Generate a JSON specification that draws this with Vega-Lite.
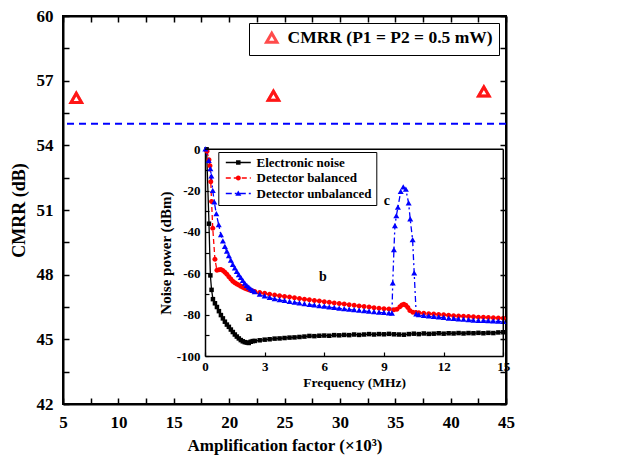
{
  "$schema": "https://vega.github.io/schema/vega-lite/v6.json",
  "width": 443,
  "height": 388,
  "autosize": {"type": "none"},
  "padding": {"left": 63, "top": 16, "right": 115, "bottom": 61},
  "background": "white",
  "config": {
    "view": {"stroke": "#000000", "strokeWidth": 2},
    "axis": {
      "grid": false,
      "domainColor": "#000000",
      "tickColor": "#000000",
      "labelColor": "#000000",
      "titleColor": "#000000",
      "labelFont": "Liberation Serif",
      "titleFont": "Liberation Serif",
      "labelFontWeight": "bold",
      "titleFontWeight": "bold",
      "labelOverlap": false,
      "labelFlush": false
    },
    "legend": {
      "labelFont": "Liberation Serif",
      "labelFontWeight": "bold",
      "labelColor": "#000000",
      "labelLimit": 400
    }
  },
  "datasets": {
    "cmrr": [
      {"amp": 6.2, "cmrr": 56.2, "series": "CMRR (P1 = P2 = 0.5 mW)"},
      {"amp": 24.0, "cmrr": 56.3, "series": "CMRR (P1 = P2 = 0.5 mW)"},
      {"amp": 43.0, "cmrr": 56.5, "series": "CMRR (P1 = P2 = 0.5 mW)"}
    ],
    "ref": [{"cmrr": 55}],
    "notes": [
      {"freq": 2.21, "power": -81.1, "label": "a"},
      {"freq": 5.93, "power": -61.8, "label": "b"},
      {"freq": 9.15, "power": -25.0, "label": "c"}
    ],
    "inset": [
      {"series": "Electronic noise", "freq": 0.08, "power": 0},
      {"series": "Electronic noise", "freq": 0.2, "power": -36},
      {"series": "Electronic noise", "freq": 0.27, "power": -61},
      {"series": "Electronic noise", "freq": 0.33, "power": -68},
      {"series": "Electronic noise", "freq": 0.4, "power": -72.5},
      {"series": "Electronic noise", "freq": 0.5, "power": -74.5},
      {"series": "Electronic noise", "freq": 0.6, "power": -76.3},
      {"series": "Electronic noise", "freq": 0.7, "power": -78.3},
      {"series": "Electronic noise", "freq": 0.8, "power": -80.2},
      {"series": "Electronic noise", "freq": 0.9, "power": -81.8},
      {"series": "Electronic noise", "freq": 1.0, "power": -83.4},
      {"series": "Electronic noise", "freq": 1.1, "power": -84.8},
      {"series": "Electronic noise", "freq": 1.2, "power": -85.9},
      {"series": "Electronic noise", "freq": 1.3, "power": -87.2},
      {"series": "Electronic noise", "freq": 1.4, "power": -88.4},
      {"series": "Electronic noise", "freq": 1.5, "power": -89.6},
      {"series": "Electronic noise", "freq": 1.6, "power": -90.6},
      {"series": "Electronic noise", "freq": 1.7, "power": -91.5},
      {"series": "Electronic noise", "freq": 1.8, "power": -92.3},
      {"series": "Electronic noise", "freq": 1.9, "power": -92.9},
      {"series": "Electronic noise", "freq": 2.0, "power": -93.3},
      {"series": "Electronic noise", "freq": 2.1, "power": -93.5},
      {"series": "Electronic noise", "freq": 2.2, "power": -93.7},
      {"series": "Electronic noise", "freq": 2.3, "power": -93.1},
      {"series": "Electronic noise", "freq": 2.4, "power": -92.8},
      {"series": "Electronic noise", "freq": 2.5, "power": -92.7},
      {"series": "Electronic noise", "freq": 2.75, "power": -92.4},
      {"series": "Electronic noise", "freq": 3.0, "power": -92.1},
      {"series": "Electronic noise", "freq": 3.25, "power": -91.9},
      {"series": "Electronic noise", "freq": 3.5, "power": -91.6},
      {"series": "Electronic noise", "freq": 3.75, "power": -91.5},
      {"series": "Electronic noise", "freq": 4.0, "power": -91.3},
      {"series": "Electronic noise", "freq": 4.25, "power": -91.1},
      {"series": "Electronic noise", "freq": 4.5, "power": -91.0},
      {"series": "Electronic noise", "freq": 4.75, "power": -90.8},
      {"series": "Electronic noise", "freq": 5.0, "power": -90.6},
      {"series": "Electronic noise", "freq": 5.25, "power": -90.3},
      {"series": "Electronic noise", "freq": 5.5, "power": -90.4},
      {"series": "Electronic noise", "freq": 5.75, "power": -90.2},
      {"series": "Electronic noise", "freq": 6.0, "power": -90.1},
      {"series": "Electronic noise", "freq": 6.25, "power": -90.2},
      {"series": "Electronic noise", "freq": 6.5, "power": -89.9},
      {"series": "Electronic noise", "freq": 6.75, "power": -90.0},
      {"series": "Electronic noise", "freq": 7.0, "power": -89.8},
      {"series": "Electronic noise", "freq": 7.25, "power": -89.9},
      {"series": "Electronic noise", "freq": 7.5, "power": -89.6},
      {"series": "Electronic noise", "freq": 7.75, "power": -89.8},
      {"series": "Electronic noise", "freq": 8.0, "power": -89.6},
      {"series": "Electronic noise", "freq": 8.25, "power": -89.4},
      {"series": "Electronic noise", "freq": 8.5, "power": -89.6},
      {"series": "Electronic noise", "freq": 8.75, "power": -89.4},
      {"series": "Electronic noise", "freq": 9.0, "power": -89.5},
      {"series": "Electronic noise", "freq": 9.25, "power": -89.3},
      {"series": "Electronic noise", "freq": 9.5, "power": -89.5},
      {"series": "Electronic noise", "freq": 9.75, "power": -89.6},
      {"series": "Electronic noise", "freq": 10.0, "power": -89.7},
      {"series": "Electronic noise", "freq": 10.25, "power": -89.4},
      {"series": "Electronic noise", "freq": 10.5, "power": -89.2},
      {"series": "Electronic noise", "freq": 10.75, "power": -89.4},
      {"series": "Electronic noise", "freq": 11.0, "power": -89.1},
      {"series": "Electronic noise", "freq": 11.25, "power": -89.3},
      {"series": "Electronic noise", "freq": 11.5, "power": -89.2},
      {"series": "Electronic noise", "freq": 11.75, "power": -89.0},
      {"series": "Electronic noise", "freq": 12.0, "power": -89.2},
      {"series": "Electronic noise", "freq": 12.25, "power": -89.0},
      {"series": "Electronic noise", "freq": 12.5, "power": -89.1},
      {"series": "Electronic noise", "freq": 12.75, "power": -88.9},
      {"series": "Electronic noise", "freq": 13.0, "power": -89.1},
      {"series": "Electronic noise", "freq": 13.25, "power": -88.9},
      {"series": "Electronic noise", "freq": 13.5, "power": -89.0},
      {"series": "Electronic noise", "freq": 13.75, "power": -88.8},
      {"series": "Electronic noise", "freq": 14.0, "power": -89.0},
      {"series": "Electronic noise", "freq": 14.25, "power": -88.8},
      {"series": "Electronic noise", "freq": 14.5, "power": -88.9},
      {"series": "Electronic noise", "freq": 14.75, "power": -88.6},
      {"series": "Electronic noise", "freq": 15.0, "power": -88.5},
      {"series": "Detector balanced", "freq": 0.1, "power": -1},
      {"series": "Detector balanced", "freq": 0.2, "power": -5},
      {"series": "Detector balanced", "freq": 0.25, "power": -8},
      {"series": "Detector balanced", "freq": 0.29, "power": -15.7},
      {"series": "Detector balanced", "freq": 0.33, "power": -25.3},
      {"series": "Detector balanced", "freq": 0.39, "power": -38.2},
      {"series": "Detector balanced", "freq": 0.5, "power": -53.2},
      {"series": "Detector balanced", "freq": 0.6, "power": -58.5},
      {"series": "Detector balanced", "freq": 0.7, "power": -58.3},
      {"series": "Detector balanced", "freq": 0.8, "power": -58.1},
      {"series": "Detector balanced", "freq": 0.9, "power": -58.6},
      {"series": "Detector balanced", "freq": 1.0, "power": -59.5},
      {"series": "Detector balanced", "freq": 1.1, "power": -60.4},
      {"series": "Detector balanced", "freq": 1.2, "power": -61.6},
      {"series": "Detector balanced", "freq": 1.3, "power": -62.8},
      {"series": "Detector balanced", "freq": 1.4, "power": -63.8},
      {"series": "Detector balanced", "freq": 1.5, "power": -64.6},
      {"series": "Detector balanced", "freq": 1.6, "power": -65.2},
      {"series": "Detector balanced", "freq": 1.7, "power": -65.7},
      {"series": "Detector balanced", "freq": 1.8, "power": -66.2},
      {"series": "Detector balanced", "freq": 1.9, "power": -66.7},
      {"series": "Detector balanced", "freq": 2.0, "power": -67.2},
      {"series": "Detector balanced", "freq": 2.1, "power": -67.6},
      {"series": "Detector balanced", "freq": 2.2, "power": -68.0},
      {"series": "Detector balanced", "freq": 2.3, "power": -68.3},
      {"series": "Detector balanced", "freq": 2.4, "power": -68.6},
      {"series": "Detector balanced", "freq": 2.5, "power": -68.8},
      {"series": "Detector balanced", "freq": 2.75, "power": -69.3},
      {"series": "Detector balanced", "freq": 3.0, "power": -69.7},
      {"series": "Detector balanced", "freq": 3.25, "power": -70.1},
      {"series": "Detector balanced", "freq": 3.5, "power": -70.5},
      {"series": "Detector balanced", "freq": 3.75, "power": -70.8},
      {"series": "Detector balanced", "freq": 4.0, "power": -71.2},
      {"series": "Detector balanced", "freq": 4.25, "power": -71.5},
      {"series": "Detector balanced", "freq": 4.5, "power": -71.8},
      {"series": "Detector balanced", "freq": 4.75, "power": -72.2},
      {"series": "Detector balanced", "freq": 5.0, "power": -72.5},
      {"series": "Detector balanced", "freq": 5.25, "power": -72.8},
      {"series": "Detector balanced", "freq": 5.5, "power": -73.1},
      {"series": "Detector balanced", "freq": 5.75, "power": -73.4},
      {"series": "Detector balanced", "freq": 6.0, "power": -73.7},
      {"series": "Detector balanced", "freq": 6.25, "power": -74.0},
      {"series": "Detector balanced", "freq": 6.5, "power": -74.3},
      {"series": "Detector balanced", "freq": 6.75, "power": -74.6},
      {"series": "Detector balanced", "freq": 7.0, "power": -74.9},
      {"series": "Detector balanced", "freq": 7.25, "power": -75.2},
      {"series": "Detector balanced", "freq": 7.5, "power": -75.5},
      {"series": "Detector balanced", "freq": 7.75, "power": -75.8},
      {"series": "Detector balanced", "freq": 8.0, "power": -76.1},
      {"series": "Detector balanced", "freq": 8.25, "power": -76.3},
      {"series": "Detector balanced", "freq": 8.5, "power": -76.6},
      {"series": "Detector balanced", "freq": 8.75, "power": -76.9},
      {"series": "Detector balanced", "freq": 9.0, "power": -77.1},
      {"series": "Detector balanced", "freq": 9.25, "power": -77.3},
      {"series": "Detector balanced", "freq": 9.5, "power": -77.6},
      {"series": "Detector balanced", "freq": 9.65, "power": -77.4},
      {"series": "Detector balanced", "freq": 9.8, "power": -76.2},
      {"series": "Detector balanced", "freq": 9.9, "power": -75.3},
      {"series": "Detector balanced", "freq": 10.0, "power": -75.0},
      {"series": "Detector balanced", "freq": 10.1, "power": -75.4},
      {"series": "Detector balanced", "freq": 10.2, "power": -76.5},
      {"series": "Detector balanced", "freq": 10.3, "power": -78.0},
      {"series": "Detector balanced", "freq": 10.45, "power": -78.8},
      {"series": "Detector balanced", "freq": 10.6, "power": -79.0},
      {"series": "Detector balanced", "freq": 10.75, "power": -79.1},
      {"series": "Detector balanced", "freq": 11.0, "power": -79.3},
      {"series": "Detector balanced", "freq": 11.25, "power": -79.5},
      {"series": "Detector balanced", "freq": 11.5, "power": -79.7},
      {"series": "Detector balanced", "freq": 11.75, "power": -79.9},
      {"series": "Detector balanced", "freq": 12.0, "power": -80.1},
      {"series": "Detector balanced", "freq": 12.25, "power": -80.3},
      {"series": "Detector balanced", "freq": 12.5, "power": -80.5},
      {"series": "Detector balanced", "freq": 12.75, "power": -80.6},
      {"series": "Detector balanced", "freq": 13.0, "power": -80.8},
      {"series": "Detector balanced", "freq": 13.25, "power": -80.9},
      {"series": "Detector balanced", "freq": 13.5, "power": -81.0},
      {"series": "Detector balanced", "freq": 13.75, "power": -81.2},
      {"series": "Detector balanced", "freq": 14.0, "power": -81.3},
      {"series": "Detector balanced", "freq": 14.25, "power": -81.4},
      {"series": "Detector balanced", "freq": 14.5, "power": -81.5},
      {"series": "Detector balanced", "freq": 14.75, "power": -81.6},
      {"series": "Detector balanced", "freq": 15.0, "power": -81.7},
      {"series": "Detector unbalanced", "freq": 0.02, "power": 0},
      {"series": "Detector unbalanced", "freq": 0.19, "power": -5.5},
      {"series": "Detector unbalanced", "freq": 0.27, "power": -9.5},
      {"series": "Detector unbalanced", "freq": 0.32, "power": -13},
      {"series": "Detector unbalanced", "freq": 0.39, "power": -20},
      {"series": "Detector unbalanced", "freq": 0.47, "power": -25.6},
      {"series": "Detector unbalanced", "freq": 0.57, "power": -31.3},
      {"series": "Detector unbalanced", "freq": 0.69, "power": -36.6},
      {"series": "Detector unbalanced", "freq": 0.8, "power": -41.5},
      {"series": "Detector unbalanced", "freq": 0.9, "power": -44.5},
      {"series": "Detector unbalanced", "freq": 1.0, "power": -47.1},
      {"series": "Detector unbalanced", "freq": 1.1, "power": -49.5},
      {"series": "Detector unbalanced", "freq": 1.2, "power": -51.6},
      {"series": "Detector unbalanced", "freq": 1.3, "power": -53.8},
      {"series": "Detector unbalanced", "freq": 1.4, "power": -55.8},
      {"series": "Detector unbalanced", "freq": 1.5, "power": -57.5},
      {"series": "Detector unbalanced", "freq": 1.6, "power": -59.2},
      {"series": "Detector unbalanced", "freq": 1.7, "power": -60.8},
      {"series": "Detector unbalanced", "freq": 1.8, "power": -62.2},
      {"series": "Detector unbalanced", "freq": 1.9, "power": -63.6},
      {"series": "Detector unbalanced", "freq": 2.0, "power": -64.9},
      {"series": "Detector unbalanced", "freq": 2.1, "power": -66.0},
      {"series": "Detector unbalanced", "freq": 2.2, "power": -66.9},
      {"series": "Detector unbalanced", "freq": 2.3, "power": -67.7},
      {"series": "Detector unbalanced", "freq": 2.4, "power": -68.4},
      {"series": "Detector unbalanced", "freq": 2.5, "power": -69.0},
      {"series": "Detector unbalanced", "freq": 2.75, "power": -70.2},
      {"series": "Detector unbalanced", "freq": 3.0, "power": -71.1},
      {"series": "Detector unbalanced", "freq": 3.25, "power": -71.8},
      {"series": "Detector unbalanced", "freq": 3.5, "power": -72.4},
      {"series": "Detector unbalanced", "freq": 3.75, "power": -72.9},
      {"series": "Detector unbalanced", "freq": 4.0, "power": -73.3},
      {"series": "Detector unbalanced", "freq": 4.25, "power": -73.7},
      {"series": "Detector unbalanced", "freq": 4.5, "power": -74.1},
      {"series": "Detector unbalanced", "freq": 4.75, "power": -74.5},
      {"series": "Detector unbalanced", "freq": 5.0, "power": -74.9},
      {"series": "Detector unbalanced", "freq": 5.25, "power": -75.2},
      {"series": "Detector unbalanced", "freq": 5.5, "power": -75.5},
      {"series": "Detector unbalanced", "freq": 5.75, "power": -75.8},
      {"series": "Detector unbalanced", "freq": 6.0, "power": -76.1},
      {"series": "Detector unbalanced", "freq": 6.25, "power": -76.4},
      {"series": "Detector unbalanced", "freq": 6.5, "power": -76.7},
      {"series": "Detector unbalanced", "freq": 6.75, "power": -77.0},
      {"series": "Detector unbalanced", "freq": 7.0, "power": -77.3},
      {"series": "Detector unbalanced", "freq": 7.25, "power": -77.5},
      {"series": "Detector unbalanced", "freq": 7.5, "power": -77.8},
      {"series": "Detector unbalanced", "freq": 7.75, "power": -78.0},
      {"series": "Detector unbalanced", "freq": 8.0, "power": -78.2},
      {"series": "Detector unbalanced", "freq": 8.25, "power": -78.5},
      {"series": "Detector unbalanced", "freq": 8.5, "power": -78.7},
      {"series": "Detector unbalanced", "freq": 8.75, "power": -78.9},
      {"series": "Detector unbalanced", "freq": 9.0, "power": -79.1},
      {"series": "Detector unbalanced", "freq": 9.25, "power": -79.3},
      {"series": "Detector unbalanced", "freq": 9.4, "power": -79.4},
      {"series": "Detector unbalanced", "freq": 9.44, "power": -64.8},
      {"series": "Detector unbalanced", "freq": 9.5, "power": -48.7},
      {"series": "Detector unbalanced", "freq": 9.55, "power": -37.1},
      {"series": "Detector unbalanced", "freq": 9.62, "power": -32.3},
      {"series": "Detector unbalanced", "freq": 9.7, "power": -28.1},
      {"series": "Detector unbalanced", "freq": 9.84, "power": -20.5},
      {"series": "Detector unbalanced", "freq": 9.97, "power": -18.4},
      {"series": "Detector unbalanced", "freq": 10.1, "power": -19.4},
      {"series": "Detector unbalanced", "freq": 10.24, "power": -26.1},
      {"series": "Detector unbalanced", "freq": 10.32, "power": -33.9},
      {"series": "Detector unbalanced", "freq": 10.44, "power": -43.9},
      {"series": "Detector unbalanced", "freq": 10.52, "power": -60},
      {"series": "Detector unbalanced", "freq": 10.62, "power": -79.8},
      {"series": "Detector unbalanced", "freq": 10.75, "power": -80.2},
      {"series": "Detector unbalanced", "freq": 11.0, "power": -80.5},
      {"series": "Detector unbalanced", "freq": 11.25, "power": -80.8},
      {"series": "Detector unbalanced", "freq": 11.5, "power": -81.0},
      {"series": "Detector unbalanced", "freq": 11.75, "power": -81.3},
      {"series": "Detector unbalanced", "freq": 12.0, "power": -81.5},
      {"series": "Detector unbalanced", "freq": 12.25, "power": -81.8},
      {"series": "Detector unbalanced", "freq": 12.5, "power": -82.0},
      {"series": "Detector unbalanced", "freq": 12.75, "power": -82.2},
      {"series": "Detector unbalanced", "freq": 13.0, "power": -82.4},
      {"series": "Detector unbalanced", "freq": 13.25, "power": -82.6},
      {"series": "Detector unbalanced", "freq": 13.5, "power": -82.8},
      {"series": "Detector unbalanced", "freq": 13.75, "power": -82.9},
      {"series": "Detector unbalanced", "freq": 14.0, "power": -83.0},
      {"series": "Detector unbalanced", "freq": 14.25, "power": -83.1},
      {"series": "Detector unbalanced", "freq": 14.5, "power": -83.2},
      {"series": "Detector unbalanced", "freq": 14.75, "power": -83.3},
      {"series": "Detector unbalanced", "freq": 15.0, "power": -83.4}
    ]
  },
  "layer": [
    {
      "data": {"name": "ref"},
      "mark": {"type": "rule", "color": "#0000ff", "strokeWidth": 2, "strokeDash": [7, 5]},
      "encoding": {
        "y": {
          "field": "cmrr", "type": "quantitative",
          "scale": {"domain": [42, 60], "nice": false, "zero": false},
          "axis": {"orient": "right", "labelExpr": "''", "title": null, "values": [42, 43.5, 45, 46.5, 48, 49.5, 51, 52.5, 54, 55.5, 57, 58.5, 60], "tickSize": -6, "tickWidth": 1.5, "domainWidth": 2}
        }
      }
    },
    {
      "data": {"name": "cmrr"},
      "mark": {"type": "point", "filled": false, "color": "#ff0000", "strokeWidth": 3, "size": 110},
      "encoding": {
        "x": {
          "field": "amp", "type": "quantitative",
          "scale": {"domain": [5, 45], "nice": false, "zero": false},
          "axis": {
            "orient": "bottom",
            "values": [5, 7.5, 10, 12.5, 15, 17.5, 20, 22.5, 25, 27.5, 30, 32.5, 35, 37.5, 40, 42.5, 45],
            "labelExpr": "datum.value % 5 == 0 ? datum.label : ''",
            "tickSize": -6, "tickWidth": 1.5, "domainWidth": 2,
            "labelPadding": 16, "labelFontSize": 17,
            "title": "Amplification factor (×10³)", "titleFontSize": 17, "titlePadding": 7
          }
        },
        "y": {
          "field": "cmrr", "type": "quantitative",
          "scale": {"domain": [42, 60], "nice": false, "zero": false},
          "axis": {
            "orient": "left",
            "values": [42, 43.5, 45, 46.5, 48, 49.5, 51, 52.5, 54, 55.5, 57, 58.5, 60],
            "labelExpr": "datum.value % 3 == 0 ? datum.label : ''",
            "tickSize": -6, "tickWidth": 1.5, "domainWidth": 2,
            "labelPadding": 16, "labelFontSize": 17,
            "title": "CMRR (dB)", "titleFontSize": 18, "titlePadding": 8
          }
        },
        "shape": {
          "field": "series", "type": "nominal",
          "scale": {"range": ["triangle-up"]},
          "legend": {
            "orient": "none", "legendX": 186, "legendY": 7, "title": null,
            "strokeColor": "#000000", "padding": 6,
            "symbolSize": 110, "symbolStrokeWidth": 3, "symbolStrokeColor": "#ff0000", "symbolFillColor": "#ffffff",
            "symbolOffset": 8, "labelOffset": 7, "labelFontSize": 17.5
          }
        }
      }
    },
    {
      "data": {"name": "cmrr"},
      "mark": {"type": "point", "shape": "triangle-up", "filled": false, "color": "#ff0000", "strokeWidth": 3, "size": 110},
      "encoding": {
        "x": {
          "field": "amp", "type": "quantitative",
          "scale": {"domain": [5, 45], "nice": false, "zero": false},
          "axis": {"orient": "top", "labelExpr": "''", "title": null, "values": [5, 7.5, 10, 12.5, 15, 17.5, 20, 22.5, 25, 27.5, 30, 32.5, 35, 37.5, 40, 42.5, 45], "tickSize": -6, "tickWidth": 1.5, "domainWidth": 2}
        },
        "y": {
          "field": "cmrr", "type": "quantitative",
          "scale": {"domain": [42, 60], "nice": false, "zero": false},
          "axis": null
        }
      }
    },
    {
      "data": {"name": "inset"},
      "mark": {"type": "line", "strokeWidth": 1.3},
      "encoding": {
        "x": {
          "field": "freq", "type": "quantitative",
          "scale": {"domain": [0, 15], "nice": false, "zero": false, "range": [142, 440.3]},
          "axis": {
            "orient": "bottom", "offset": -48,
            "values": [0, 3, 6, 9, 12, 15],
            "tickSize": -4, "tickWidth": 1.2, "domainWidth": 1.5,
            "labelPadding": 8, "labelFontSize": 13,
            "title": "Frequency (MHz)", "titleFontSize": 13.5, "titlePadding": 2
          }
        },
        "y": {
          "field": "power", "type": "quantitative",
          "scale": {"domain": [-100, 0], "nice": false, "zero": false, "range": [340, 133.3]},
          "axis": {
            "orient": "left", "offset": -142,
            "values": [-100, -90, -80, -70, -60, -50, -40, -30, -20, -10, 0],
            "labelExpr": "datum.value % 20 == 0 ? '' + datum.value : ''",
            "tickSize": -4, "tickWidth": 1.2, "domainWidth": 1.5,
            "labelPadding": 9, "labelFontSize": 13,
            "title": "Noise power (dBm)", "titleFontSize": 15, "titlePadding": 3
          }
        },
        "color": {
          "field": "series", "type": "nominal",
          "scale": {"domain": ["Electronic noise", "Detector balanced", "Detector unbalanced"], "range": ["#000000", "#ff0000", "#0000ff"]},
          "legend": {
            "orient": "none", "legendX": 155.3, "legendY": 136, "title": null, "direction": "vertical",
            "strokeColor": "#000000", "padding": 4, "rowPadding": 1.5,
            "symbolType": "M-2.5,0H2.5", "symbolSize": 100, "symbolStrokeWidth": 1.5,
            "symbolOffset": 9.5, "labelOffset": 11.7, "labelFontSize": 13
          }
        },
        "strokeDash": {
          "field": "series", "type": "nominal",
          "scale": {"domain": ["Electronic noise", "Detector balanced", "Detector unbalanced"], "range": [[1, 0], [5, 3], [6, 3, 2, 3]]},
          "legend": {
            "orient": "none", "legendX": 155.3, "legendY": 136, "title": null, "direction": "vertical",
            "strokeColor": "#000000", "padding": 4, "rowPadding": 1.5,
            "symbolType": "M-2.5,0H2.5", "symbolSize": 100, "symbolStrokeWidth": 1.5,
            "symbolOffset": 9.5, "labelOffset": 11.7, "labelFontSize": 13
          }
        }
      }
    },
    {
      "data": {"name": "inset"},
      "mark": {"type": "point", "filled": true, "size": 100, "opacity": 1},
      "encoding": {
        "x": {"field": "freq", "type": "quantitative", "scale": {"domain": [0, 15], "nice": false, "zero": false, "range": [142, 440.3]}, "axis": null},
        "y": {"field": "power", "type": "quantitative", "scale": {"domain": [-100, 0], "nice": false, "zero": false, "range": [340, 133.3]}, "axis": null},
        "color": {
          "field": "series", "type": "nominal",
          "scale": {"domain": ["Electronic noise", "Detector balanced", "Detector unbalanced"], "range": ["#000000", "#ff0000", "#0000ff"]},
          "legend": {
            "orient": "none", "legendX": 155.3, "legendY": 136, "title": null, "direction": "vertical",
            "padding": 4, "rowPadding": 1.5, "symbolSize": 100, "symbolStrokeWidth": 1.5, "symbolStrokeColor": "transparent",
            "symbolOffset": 9.5, "labelOffset": 11.7, "labelFontSize": 13, "labelOpacity": 0
          }
        },
        "shape": {
          "field": "series", "type": "nominal",
          "scale": {"domain": ["Electronic noise", "Detector balanced", "Detector unbalanced"], "range": ["M-0.45,-0.45H0.45V0.45H-0.45Z", "M-0.5,0A0.5,0.5,0,1,1,0.5,0A0.5,0.5,0,1,1,-0.5,0Z", "M0,-0.6L0.6,0.45H-0.6Z"]},
          "legend": {
            "orient": "none", "legendX": 155.3, "legendY": 136, "title": null, "direction": "vertical",
            "padding": 4, "rowPadding": 1.5, "symbolSize": 100, "symbolStrokeWidth": 1.5, "symbolStrokeColor": "transparent",
            "symbolOffset": 9.5, "labelOffset": 11.7, "labelFontSize": 13, "labelOpacity": 0
          }
        }
      }
    },
    {
      "data": {"name": "ref"},
      "mark": {"type": "rule", "color": "#000000", "strokeWidth": 1.5},
      "encoding": {
        "x": {"datum": 15, "type": "quantitative", "scale": {"domain": [0, 15], "nice": false, "zero": false, "range": [142, 440.3]}, "axis": null},
        "y": {"datum": -100, "type": "quantitative", "scale": {"domain": [-100, 0], "nice": false, "zero": false, "range": [340, 133.3]}, "axis": null},
        "y2": {"datum": 0}
      }
    },
    {
      "data": {"name": "ref"},
      "mark": {"type": "rule", "color": "#000000", "strokeWidth": 1.5},
      "encoding": {
        "x": {"datum": 0, "type": "quantitative", "scale": {"domain": [0, 15], "nice": false, "zero": false, "range": [142, 440.3]}, "axis": null},
        "x2": {"datum": 15},
        "y": {"datum": 0, "type": "quantitative", "scale": {"domain": [-100, 0], "nice": false, "zero": false, "range": [340, 133.3]}, "axis": null}
      }
    },
    {
      "data": {"name": "notes"},
      "mark": {"type": "text", "font": "Liberation Serif", "fontWeight": "bold", "fontSize": 14, "color": "#000000"},
      "encoding": {
        "x": {"field": "freq", "type": "quantitative", "scale": {"domain": [0, 15], "nice": false, "zero": false, "range": [142, 440.3]}, "axis": null},
        "y": {"field": "power", "type": "quantitative", "scale": {"domain": [-100, 0], "nice": false, "zero": false, "range": [340, 133.3]}, "axis": null},
        "text": {"field": "label", "type": "nominal"}
      }
    }
  ],
  "resolve": {
    "scale": {"x": "independent", "y": "independent", "color": "independent", "shape": "independent", "strokeDash": "independent"}
  }
}
